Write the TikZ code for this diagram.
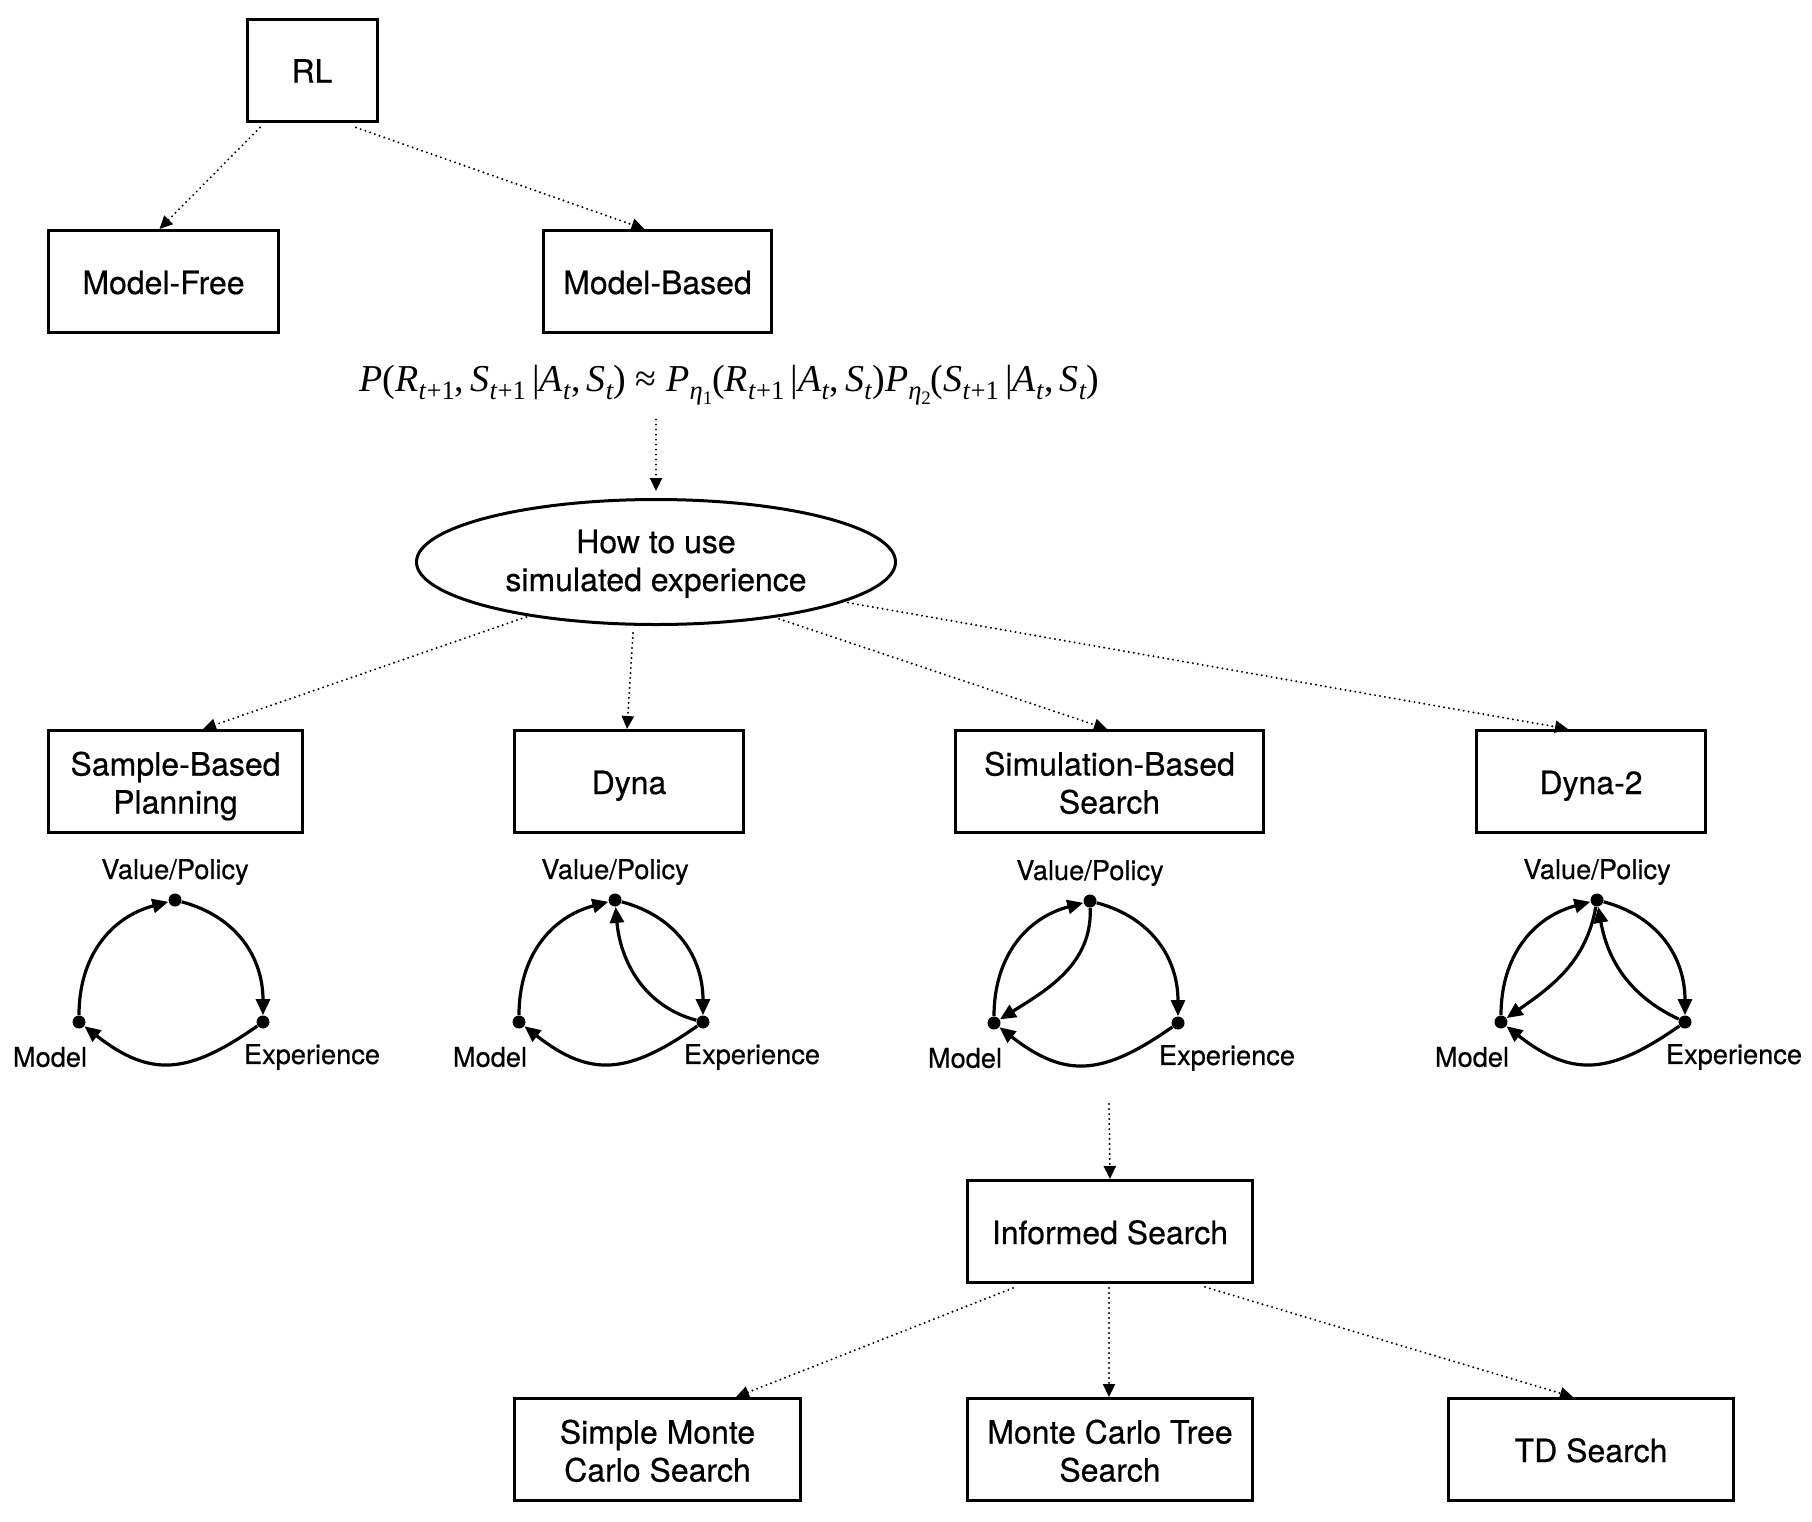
\documentclass[tikz,border=0pt]{standalone}
\usepackage{fontspec}
\usepackage{graphicx}
\setmainfont{TeX Gyre Heros}[FakeBold=0.5]
\newfontfamily\tms{Liberation Serif}
\usetikzlibrary{shapes.geometric,arrows.meta,calc}
\newcommand\vi[1]{\textit{#1}}
\newcommand\sbx[1]{\raisebox{-0.22em}{\fontsize{14pt}{14pt}\selectfont #1}}
\newcommand\sbxx[1]{\raisebox{-0.2em}{\fontsize{10pt}{10pt}\selectfont #1}}
\newcommand\bxstrut{\rule[-3.5pt]{0pt}{19.5pt}}
\newcommand\twol[3][2.7pt]{\raisebox{-#1}[\height][\depth]{\begin{tabular}{@{}c@{}}#2\\#3\end{tabular}}}
\newcommand\mycyc[3]{%
  \node[dotn] (v#1) at (#2,#3) {};
  \node[dotn] (m#1) at ($(v#1)+(-96,-122)$) {};
  \node[dotn] (e#1) at ($(v#1)+(88,-122)$) {};
  \node[lab] (lv#1) at ($(v#1)+(0,28)$) {Value/Policy};
  \node[lab] (lm#1) at ($(m#1)+(-29,-35)$) {Model};
  \node[lab] (le#1) at ($(e#1)+(49,-35)$) {Experience};
  \draw[cyc] (m#1) to[out=90,in=195,looseness=1.05] (v#1);
  \draw[cyc] (v#1) to[out=-15,in=90,looseness=1.05] (e#1);
  \draw[cyc] (e#1) to[out=215,in=-38,looseness=1.25] (m#1);
}
\begin{document}
\begin{tikzpicture}[x=0.5pt,y=0.5pt,
  txt/.style={align=center,font=\fontsize{16pt}{19pt}\selectfont},
  box/.style={draw,line width=1.5pt,inner sep=0pt,txt,minimum height=51pt,
    execute at begin node=\bxstrut, execute at end node=\bxstrut},
  box2/.style={draw,line width=1.5pt,inner sep=0pt,txt,minimum height=51pt},
  dotarrow/.style={line width=1.1pt,line cap=round,dash pattern=on 0pt off 2.5pt,-{Triangle[length=6.5pt,width=6pt]}},
  dotn/.style={circle,fill,inner sep=0pt,minimum size=6.5pt},
  lab/.style={font=\fontsize{13.6pt}{15pt}\selectfont,inner sep=0pt},
  cyc/.style={line width=1.6pt,-{Triangle[length=8pt,width=7pt]}},
]
\useasboundingbox (0,0) rectangle (1812,-1522);

\node[box,minimum width=65pt] (rl) at (312,-70) {RL};
\node[box,minimum width=115pt] (mf) at (163.5,-281.5) {Model-Free};
\node[box,minimum width=114pt] (mb) at (657.5,-281.5) {Model-Based};

\node[inner sep=0pt] (formula) at (729.5,-385) {\resizebox{370pt}{!}{\tms\fontsize{20pt}{24pt}\selectfont
\vi{P}(\vi{R}\sbx{\vi{t}+1},\thinspace\vi{S}\sbx{\vi{t}+1}\thinspace|\vi{A}\sbx{\vi{t}},\thinspace\vi{S}\sbx{\vi{t}}) ≈ \vi{P}\sbx{\vi{η}\sbxx{1}}(\vi{R}\sbx{\vi{t}+1}\thinspace|\vi{A}\sbx{\vi{t}},\thinspace\vi{S}\sbx{\vi{t}})\vi{P}\sbx{\vi{η}\sbxx{2}}(\vi{S}\sbx{\vi{t}+1}\thinspace|\vi{A}\sbx{\vi{t}},\thinspace\vi{S}\sbx{\vi{t}})}};

\node[draw,ellipse,line width=1.5pt,inner sep=0pt,minimum width=239.5pt,minimum height=62.5pt,txt] (ell) at (656,-562) {\twol[1.2pt]{How to use}{simulated experience}};

\node[box2,minimum width=127pt] (sbp) at (175.5,-781.5) {\twol{Sample-Based}{Planning}};
\node[box,minimum width=114.5pt] (dyna) at (629,-781.5) {Dyna};
\node[box2,minimum width=154pt] (sbs) at (1109.5,-781.5) {\twol{Simulation-Based}{Search}};
\node[box,minimum width=114.5pt] (dtwo) at (1591,-781.5) {Dyna-2};

\node[box,minimum width=142.5pt] (is) at (1110,-1231.5) {Informed Search};
\node[box2,minimum width=143pt] (smcs) at (657.5,-1449.5) {\twol{Simple Monte}{Carlo Search}};
\node[box2,minimum width=142.5pt] (mcts) at (1110,-1449.5) {\twol{Monte Carlo Tree}{Search}};
\node[box,minimum width=142.5pt] (td) at (1591,-1449.5) {TD Search};

% connectors
\draw[dotarrow] ([shift={(-52,-5)}]rl.south) -- ([shift={(-4,0)}]mf.north);
\draw[dotarrow] ([shift={(44,-5)}]rl.south) -- ([shift={(-13,0)}]mb.north);
\draw[dotarrow,shorten <=7pt,shorten >=3.5pt] (formula.south -| ell.north) -- (ell.north);
\draw[dotarrow,shorten <=1pt] (ell.203) -- ([shift={(27.5,0)}]sbp.north);
\draw[dotarrow] ([shift={(-23,-7)}]ell.south) -- ([shift={(-2,0)}]dyna.north);
\draw[dotarrow,shorten <=2pt] (ell.-25) -- ([shift={(-2.5,0)}]sbs.north);
\draw[dotarrow,shorten <=2pt] (ell.-12) -- ([shift={(-23,0)}]dtwo.north);

\coordinate (sbsdown) at (1109,-1104);
\draw[dotarrow] (sbsdown) -- (is.north);
\draw[dotarrow] ([shift={(-97,-4)}]is.south) -- ([shift={(78.5,0)}]smcs.north);
\draw[dotarrow] ([shift={(-1,-4)}]is.south) -- ([shift={(-1,0)}]mcts.north);
\draw[dotarrow] ([shift={(95,-3)}]is.south) -- ([shift={(-18,0)}]td.north);

% cycles
\mycyc{1}{175}{-900}
\mycyc{2}{615}{-900}
\mycyc{3}{1090}{-901}
\mycyc{4}{1597}{-900}
\draw[cyc] (e2) to[out=165,in=-85] (v2);
\draw[cyc] (v3) to[out=-88,in=32] (m3);
\draw[cyc] (v4) to[out=-100,in=35] (m4);
\draw[cyc] (e4) to[out=155,in=-80] (v4);
\end{tikzpicture}
\end{document}
